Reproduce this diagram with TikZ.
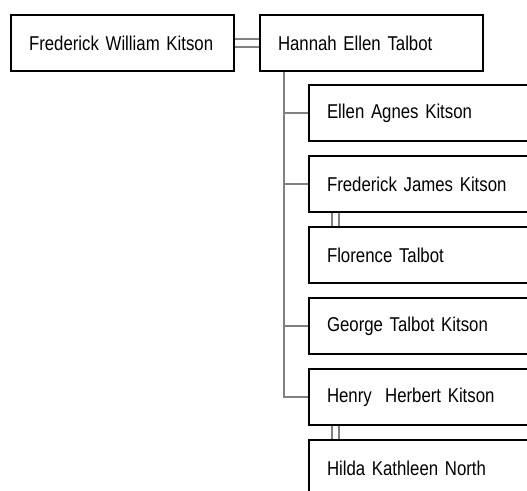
\documentclass[tikz,border=0pt]{standalone}
\usepackage{fontspec}
\setmainfont{Liberation Sans}[FakeStretch=0.84, WordSpace=0.8]
\usetikzlibrary{positioning}

\tikzset{
  person/.style={rectangle, draw=black, line width=2pt, fill=white,
    minimum width=223pt, minimum height=56pt, text width=187pt,
    inner xsep=18pt, align=left, font=\fontsize{20}{23}\selectfont},
  link/.style={draw=gray, line width=1.6pt},
}

\begin{document}
\begin{tikzpicture}[x=1pt,y=-1pt]
    \clip (0,0) rectangle (527,490);
    \fill[white] (0,0) rectangle (527,490);

    % couple
    \node[person] (fwk) at (122.5,43) {Frederick William Kitson};
    \node[person, right=24pt of fwk] (het) {Hannah Ellen Talbot};

    % children and spouses
    \node[person, below right=12pt and 49pt of het.south west] (eak) {Ellen Agnes Kitson};
    \node[person, below=13pt of eak] (fjk) {Frederick James Kitson};
    \node[person, below=13pt of fjk] (flt) {Florence Talbot};
    \node[person, below=13pt of flt] (gtk) {George Talbot Kitson};
    \node[person, below=13pt of gtk] (hhk) {Henry\ \ Herbert Kitson};
    \node[person, below=13pt of hhk] (hkn) {Hilda Kathleen North};

    % marriages
    \draw[link] ([yshift=4pt]fwk.east) -- ([yshift=4pt]het.west);
    \draw[link] ([yshift=-4pt]fwk.east) -- ([yshift=-4pt]het.west);
    \draw[link] ([xshift=24pt]fjk.south west) -- ([xshift=24pt]flt.north west);
    \draw[link] ([xshift=31pt]fjk.south west) -- ([xshift=31pt]flt.north west);
    \draw[link] ([xshift=24pt]hhk.south west) -- ([xshift=24pt]hkn.north west);
    \draw[link] ([xshift=31pt]hhk.south west) -- ([xshift=31pt]hkn.north west);

    % descent
    \coordinate (trunk) at ([xshift=25pt]het.south west);
    \draw[link] (trunk) |- (eak.west);
    \draw[link] (trunk) |- (fjk.west);
    \draw[link] (trunk) |- (gtk.west);
    \draw[link] (trunk) |- (hhk.west);
\end{tikzpicture}
\end{document}
